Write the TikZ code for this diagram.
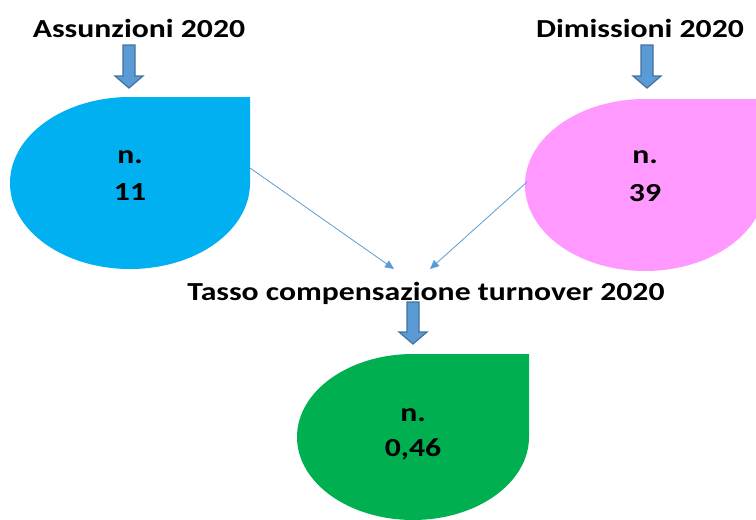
\documentclass[tikz,border=0pt]{standalone}
\usepackage{fontspec}
\setmainfont{Carlito}[FakeStretch=1.22]
\usetikzlibrary{arrows.meta}
\definecolor{cyanfill}{HTML}{00B0F0}
\definecolor{pinkfill}{HTML}{FF99FF}
\definecolor{greenfill}{HTML}{00B050}
\definecolor{arrfill}{HTML}{5B9BD5}
\definecolor{arrline}{HTML}{41719C}
\newcommand{\blkarrow}[3]{%
  \draw[arrline, fill=arrfill, line width=1.2pt, line join=miter]
    (#1-6,#2) -- (#1+6,#2) -- (#1+6,#3-12) -- (#1+14,#3-12) -- (#1,#3)
    -- (#1-14,#3-12) -- (#1-6,#3-12) -- cycle;}
\newcommand{\tdrop}[6]{% color, cx, cy, rx, ry
  \fill[#1] (#2,#3-#5) -- (#2+#4,#3-#5) -- (#2+#4,#3)
    arc[start angle=0, end angle=-270, x radius=#4, y radius=-#5] -- cycle;}
\tikzset{
  lbl/.style={font=\bfseries\fontsize{26}{30}\selectfont, inner sep=0pt, anchor=base},
  conn/.style={arrfill, line width=0.8pt, -{Triangle[length=9pt,width=8pt]}}
}
\begin{document}
\begin{tikzpicture}[x=1pt,y=-1pt]
\useasboundingbox (0,0) rectangle (756,520);
\begin{scope}
\clip (0,0) rectangle (756,520);
\tdrop{cyanfill}{130}{183}{120}{86}{}
\tdrop{pinkfill}{645}{185}{120}{86}{}
\tdrop{greenfill}{413}{437}{116}{83}{}
\end{scope}
\node[lbl] (t1) at (139,37) {Assunzioni 2020};
\node[lbl] (t2) at (640,37) {Dimissioni 2020};
\node[lbl] (t3) at (426,300) {Tasso compensazione turnover 2020};
\node[lbl] (n1) at (130,163) {n.};
\node[lbl] (v1) at (130,200) {11};
\node[lbl] (n2) at (645,163) {n.};
\node[lbl] (v2) at (645,201) {39};
\node[lbl] (n3) at (413,421) {n.};
\node[lbl] (v3) at (413,456) {0,46};
\blkarrow{129}{45}{88}
\blkarrow{647}{45}{88}
\blkarrow{413}{302}{344}
\coordinate (s1) at (250,168);
\coordinate (e1) at (394,269);
\coordinate (s2) at (527,182);
\coordinate (e2) at (430,269);
\draw[conn] (s1) -- (e1);
\draw[conn] (s2) -- (e2);
\end{tikzpicture}
\end{document}
